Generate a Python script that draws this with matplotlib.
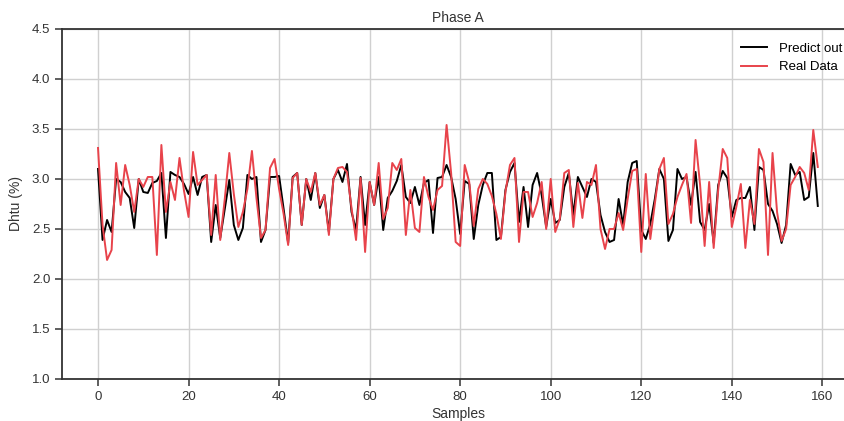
import matplotlib
matplotlib.use("Agg")
import matplotlib.pyplot as plt
import numpy as np

# Phase A: predicción vs dato real (160 muestras)
predict_out = [
    3.10, 2.39, 2.59, 2.47, 3.00, 2.97, 2.87, 2.81, 2.51, 3.00,
    2.87, 2.86, 2.96, 2.98, 3.06, 2.41, 3.07, 3.04, 3.02, 2.95,
    2.85, 3.02, 2.84, 3.02, 3.04, 2.37, 2.74, 2.41, 2.70, 2.99,
    2.54, 2.39, 2.51, 3.04, 3.00, 3.02, 2.37, 2.49, 3.02, 3.02,
    3.03, 2.70, 2.36, 3.02, 3.06, 2.54, 3.00, 2.79, 3.06, 2.71,
    2.84, 2.47, 3.00, 3.09, 2.97, 3.15, 2.67, 2.49, 3.02, 2.54,
    2.97, 2.74, 3.02, 2.49, 2.81, 2.88, 2.98, 3.14, 2.82, 2.76,
    2.92, 2.74, 2.96, 2.99, 2.46, 3.01, 3.02, 3.14, 3.02, 2.80,
    2.45, 2.98, 2.95, 2.40, 2.74, 2.94, 3.06, 3.06, 2.39, 2.42,
    2.89, 3.07, 3.16, 2.57, 2.92, 2.52, 2.94, 3.06, 2.84, 2.52,
    2.80, 2.56, 2.59, 2.92, 3.06, 2.64, 3.02, 2.92, 2.82, 3.00,
    2.97, 2.64, 2.47, 2.37, 2.39, 2.80, 2.54, 2.97, 3.16, 3.18,
    2.49, 2.40, 2.55, 2.80, 3.10, 3.00, 2.38, 2.49, 3.10, 3.00,
    3.02, 2.74, 3.07, 2.57, 2.49, 2.75, 2.36, 2.94, 3.08, 3.01,
    2.62, 2.79, 2.81, 2.81, 2.92, 2.49, 3.12, 3.09, 2.75, 2.68,
    2.55, 2.36, 2.54, 3.15, 3.04, 3.07, 2.79, 2.82, 3.26, 2.73,
]
real_data = [
    3.31, 2.54, 2.19, 2.29, 3.16, 2.74, 3.14, 2.94, 2.67, 3.00,
    2.92, 3.02, 3.02, 2.24, 3.34, 2.67, 2.97, 2.79, 3.21, 2.88,
    2.62, 3.27, 2.94, 2.99, 3.04, 2.44, 3.04, 2.39, 2.80, 3.26,
    2.85, 2.52, 2.67, 2.90, 3.28, 2.81, 2.41, 2.49, 3.11, 3.20,
    2.90, 2.65, 2.34, 3.01, 3.06, 2.54, 3.00, 2.87, 3.06, 2.74,
    2.84, 2.44, 3.00, 3.11, 3.12, 3.07, 2.71, 2.39, 3.01, 2.27,
    2.97, 2.74, 3.16, 2.60, 2.71, 3.16, 3.09, 3.20, 2.44, 2.89,
    2.51, 2.47, 3.02, 2.82, 2.69, 2.89, 2.93, 3.54, 3.06, 2.37,
    2.33, 3.14, 2.97, 2.53, 2.90, 3.00, 2.95, 2.83, 2.65, 2.40,
    2.87, 3.14, 3.21, 2.37, 2.87, 2.87, 2.62, 2.76, 2.97, 2.50,
    3.00, 2.47, 2.60, 3.06, 3.09, 2.52, 2.96, 2.61, 2.97, 2.94,
    3.14, 2.50, 2.30, 2.50, 2.50, 2.66, 2.49, 2.80, 3.08, 3.10,
    2.27, 3.05, 2.40, 2.75, 3.10, 3.21, 2.55, 2.65, 2.82, 2.94,
    3.05, 2.56, 3.39, 2.94, 2.33, 2.97, 2.31, 2.89, 3.30, 3.21,
    2.52, 2.72, 2.95, 2.31, 2.79, 2.55, 3.30, 3.17, 2.24, 3.26,
    2.67, 2.38, 2.50, 2.94, 3.02, 3.12, 3.06, 2.89, 3.49, 3.12,
]
samples = np.arange(len(predict_out))

plt.rcParams["font.family"] = ["Liberation Sans", "DejaVu Sans"]

fig = plt.figure(figsize=(8.45, 4.21), dpi=100)
# el original viene recortado a la derecha: el eje sigue fuera del lienzo
ax = fig.add_axes([0.0734, 0.0998, 0.937, 0.8314])

ax.plot(samples, predict_out, color="black", lw=1.4, label="Predict out", zorder=3)
ax.plot(samples, real_data, color="#e8434b", lw=1.4, label="Real Data", zorder=4)

ax.set_ylim(1.0, 4.5)
ax.set_xlim(-7.95, 166.95)
ax.set_yticks(np.arange(1.0, 4.51, 0.5))
ax.set_xticks(np.arange(0, 161, 20))
ax.grid(True, color="#d0d0d0", lw=1.0)
ax.set_axisbelow(True)

for s in ax.spines.values():
    s.set_color("#333333")
    s.set_linewidth(1.3)
ax.tick_params(direction="out", length=5, width=1.1, colors="#333333", labelsize=9.5)

ax.set_title("Phase A", fontsize=10, color="#333333", pad=5)
ax.set_xlabel("Samples", fontsize=10, color="#333333", labelpad=3)
ax.set_ylabel("Dhtu (%)", fontsize=10, color="#333333", labelpad=6)

ax.legend(loc="upper right", bbox_to_anchor=(1.006, 0.917), bbox_transform=fig.transFigure,
          frameon=False, fontsize=9.5, handlelength=2.0, handletextpad=0.9,
          borderaxespad=0.2, labelspacing=0.45)

fig.savefig("out.png", dpi=100)
